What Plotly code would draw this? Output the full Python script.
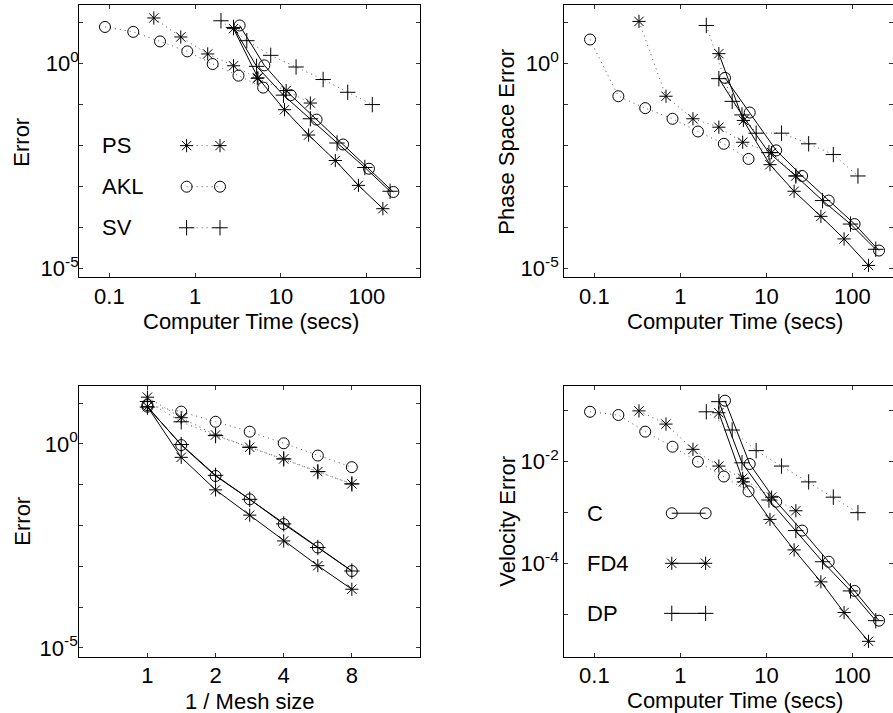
import plotly.graph_objects as go

# ---------------- data ----------------
# computer time (secs) of each method's runs
t_PS = [0.33, 0.68, 1.4, 2.8, 5.3, 11.5, 22]
t_AKL = [0.089, 0.19, 0.39, 0.81, 1.6, 3.2, 6.2]
t_SV = [2.0, 4.0, 7.6, 15, 31, 60, 116]
t_C = [3.3, 6.4, 13, 26, 53, 106, 204]
t_FD4 = [2.8, 5.4, 11, 21, 43, 80, 154]
t_DP = [2.8, 5.2, 10.7, 22, 45, 95, 187]
inv_mesh = [1, 1.41, 2, 2.83, 4, 5.66, 8]

# panel 1: Error vs computer time
err_PS = [13.1, 4.5, 1.73, 0.89, 0.44, 0.22, 0.109]
err_AKL = [7.9, 6.0, 3.5, 2.0, 0.98, 0.51, 0.26]
err_SV = [11.2, 3.65, 1.6, 0.83, 0.41, 0.20, 0.10]
err_C = [8.6, 0.91, 0.17, 0.043, 0.0106, 0.0027, 7.3e-4]
err_FD4 = [7.2, 0.45, 0.075, 0.018, 0.0043, 0.00106, 2.85e-4]
err_DP = [7.7, 0.86, 0.17, 0.045, 0.0115, 0.0029, 7.6e-4]

# panel 2: Phase space error vs computer time
pse_PS = [10.8, 0.16, 0.045, 0.028, 0.012, 0.0067, 0.0018]
pse_AKL = [3.9, 0.16, 0.082, 0.045, 0.022, 0.011, 0.0047]
pse_SV = [8.6, 0.12, 0.020, 0.020, 0.011, 0.006, 0.0018]
pse_C = [0.45, 0.064, 0.0076, 0.0018, 4.5e-4, 1.2e-4, 2.7e-5]
pse_FD4 = [1.76, 0.041, 0.0034, 7.6e-4, 1.85e-4, 5.2e-5, 1.17e-5]
pse_DP = [0.43, 0.056, 0.0067, 0.0018, 4.5e-4, 1.2e-4, 2.9e-5]

# panel 3: Error vs 1 / mesh size
mer_PS = [14, 4.4, 1.66, 0.83, 0.43, 0.21, 0.105]
mer_AKL = [9.0, 6.2, 3.5, 2.0, 1.04, 0.52, 0.27]
mer_SV = [11, 3.5, 1.6, 0.83, 0.43, 0.21, 0.105]
mer_C = [8.2, 0.94, 0.164, 0.044, 0.0109, 0.0029, 7.7e-4]
mer_FD4 = [8.2, 0.47, 0.075, 0.018, 0.0042, 0.00104, 2.75e-4]
mer_DP = [8.0, 0.97, 0.17, 0.044, 0.011, 0.0029, 7.7e-4]

# panel 4: Velocity error vs computer time
vel_PS = [0.10, 0.055, 0.0175, 0.0082, 0.0047, 0.0020, 0.00108]
vel_AKL = [0.096, 0.083, 0.039, 0.0197, 0.010, 0.0051, 0.0026]
vel_SV = [0.096, 0.042, 0.0165, 0.0082, 0.0040, 0.0020, 0.00099]
vel_C = [0.159, 0.009, 0.00163, 4.4e-4, 1.07e-4, 2.85e-5, 7.4e-6]
vel_FD4 = [0.092, 0.0040, 7.3e-4, 1.83e-4, 4.3e-5, 1.07e-5, 2.9e-6]
vel_DP = [0.152, 0.0095, 0.00176, 4.4e-4, 1.07e-4, 2.85e-5, 7.4e-6]

time_ticks = [0.1, 1, 10, 100]
time_ticktext = ["0.1", "1", "10", "100"]
mesh_ticks = [1, 2, 4, 8]
mesh_ticktext = ["1", "2", "4", "8"]

# ---------------- styling ----------------
FONT = "Liberation Sans, Arial, Helvetica, sans-serif"
FS = 22
DOT = "1px,4px"
STY = {
    "PS": dict(symbol="asterisk-open", dash=DOT, lc="#555555"),
    "AKL": dict(symbol="circle-open", dash=DOT, lc="#555555"),
    "SV": dict(symbol="cross-thin-open", dash=DOT, lc="#555555"),
    "C": dict(symbol="circle-open", dash="solid", lc="black"),
    "FD4": dict(symbol="asterisk-open", dash="solid", lc="black"),
    "DP": dict(symbol="cross-thin-open", dash="solid", lc="black"),
}

fig = go.Figure()


def add(x, y, name, xa, ya):
    s = STY[name]
    fig.add_trace(go.Scatter(
        x=x, y=y, mode="lines+markers", name=name, showlegend=False,
        xaxis=xa, yaxis=ya,
        line=dict(color=s["lc"], width=1, dash=s["dash"]),
        marker=dict(symbol=s["symbol"], size=11, color="black",
                    line=dict(color="black", width=1)),
    ))


panels = [
    ("x", "y", [t_PS, t_AKL, t_SV, t_C, t_FD4, t_DP],
     [err_PS, err_AKL, err_SV, err_C, err_FD4, err_DP]),
    ("x2", "y2", [t_PS, t_AKL, t_SV, t_C, t_FD4, t_DP],
     [pse_PS, pse_AKL, pse_SV, pse_C, pse_FD4, pse_DP]),
    ("x3", "y3", [inv_mesh] * 6,
     [mer_PS, mer_AKL, mer_SV, mer_C, mer_FD4, mer_DP]),
    ("x4", "y4", [t_PS, t_AKL, t_SV, t_C, t_FD4, t_DP],
     [vel_PS, vel_AKL, vel_SV, vel_C, vel_FD4, vel_DP]),
]
names = ["PS", "AKL", "SV", "C", "FD4", "DP"]
for xa, ya, xs, ys in panels:
    for nm, xv, yv in zip(names, xs, ys):
        add(xv, yv, nm, xa, ya)

# ---------------- in-axes legends (MATLAB style) ----------------
def legend_block(xa, ya, items, tx, mx0, mx1, ys):
    for nm, yy in zip(items, ys):
        s = STY[nm]
        fig.add_trace(go.Scatter(
            x=[mx0, mx1], y=[yy, yy], mode="lines+markers", showlegend=False,
            xaxis=xa, yaxis=ya, hoverinfo="skip",
            line=dict(color=s["lc"], width=1, dash=s["dash"]),
            marker=dict(symbol=s["symbol"], size=11, color="black",
                        line=dict(color="black", width=1)),
        ))
        fig.add_annotation(x=tx, y=yy, xref=xa, yref=ya, text=nm,
                           showarrow=False, xanchor="left", yanchor="middle",
                           font=dict(family=FONT, size=FS, color="black"))


legend_block("x5", "y5", ["PS", "AKL", "SV"], 0.062, 0.315, 0.413,
             [0.483, 0.332, 0.181])
legend_block("x6", "y6", ["C", "FD4", "DP"], 0.064, 0.327, 0.430,
             [0.530, 0.345, 0.160])

# ---------------- axis titles (placed as paper annotations) ----------------
W, H = 893, 713
titles = [
    ("Computer Time (secs)", 250.5, 321, 0),
    ("Computer Time (secs)", 735, 321, 0),
    ("1 / Mesh size", 249.5, 701, 0),
    ("Computer Time (secs)", 735, 700, 0),
    ("Error", 21.7, 142, -90),
    ("Phase Space Error", 506.7, 142, -90),
    ("Error", 21.7, 521, -90),
    ("Velocity Error", 506.7, 521, -90),
]
for txt, px, py, ang in titles:
    fig.add_annotation(x=px / W, y=1 - py / H, xref="paper", yref="paper",
                       text=txt, showarrow=False, textangle=ang,
                       xanchor="center", yanchor="middle",
                       font=dict(family=FONT, size=FS, color="black"))

# ---------------- axes ----------------
LX = [0.0888, 0.4703]
RX = [0.6319, 1.0]
TY = [0.6115, 0.993]
BY = [0.079, 0.4586]

common = dict(showline=True, linecolor="black", linewidth=1.3, mirror="ticks",
              ticks="inside", ticklen=4, tickwidth=1, tickcolor="#333333",
              showgrid=False, zeroline=False, automargin=False,
              tickfont=dict(family=FONT, size=FS, color="black"))

decades_a = [1e-5, 1e-4, 1e-3, 1e-2, 1e-1, 1, 10]
lab_a = [1e-5, 1]
lab_a_text = ["10<sup>-5</sup>", "10<sup>0</sup>"]
decades_b = [1e-5, 1e-4, 1e-3, 1e-2, 1e-1]
lab_b = [1e-4, 1e-2]
lab_b_text = ["10<sup>-4</sup>", "10<sup>-2</sup>"]


def minor(vals):
    return dict(tickmode="array", tickvals=vals, ticks="inside", ticklen=4,
                tickwidth=1, tickcolor="#333333", showgrid=False)


fig.update_layout(
    width=W, height=H,
    margin=dict(l=0, r=0, t=0, b=0, autoexpand=False),
    paper_bgcolor="white", plot_bgcolor="rgba(0,0,0,0)",
    font=dict(family=FONT, size=FS, color="black"),
    showlegend=False,
    xaxis=dict(domain=LX, anchor="y", type="log", range=[-1.35, 2.62],
               tickvals=time_ticks, ticktext=time_ticktext,
               ticklabelstandoff=-1, **common),
    yaxis=dict(domain=TY, anchor="x", type="log", range=[-5.215, 1.435],
               tickvals=lab_a, ticktext=lab_a_text, minor=minor(decades_a),
               ticklabelstandoff=-5, **common),
    xaxis2=dict(domain=RX, anchor="y2", type="log", range=[-1.35, 2.472],
                tickvals=time_ticks, ticktext=time_ticktext,
                ticklabelstandoff=-1, **common),
    yaxis2=dict(domain=TY, anchor="x2", type="log", range=[-5.215, 1.435],
                tickvals=lab_a, ticktext=lab_a_text, minor=minor(decades_a),
                ticklabelstandoff=0, **common),
    xaxis3=dict(domain=LX, anchor="y3", type="log", range=[-0.30103, 1.20412],
                tickvals=mesh_ticks, ticktext=mesh_ticktext,
                ticklabelstandoff=-1, **common),
    yaxis3=dict(domain=BY, anchor="x3", type="log", range=[-5.213, 1.42],
                tickvals=lab_a, ticktext=lab_a_text, minor=minor(decades_a),
                ticklabelstandoff=-4, **common),
    xaxis4=dict(domain=RX, anchor="y4", type="log", range=[-1.35, 2.472],
                tickvals=time_ticks, ticktext=time_ticktext,
                ticklabelstandoff=-1, **common),
    yaxis4=dict(domain=BY, anchor="x4", type="log", range=[-5.84, -0.51],
                tickvals=lab_b, ticktext=lab_b_text, minor=minor(decades_b),
                ticklabelstandoff=0, **common),
    xaxis5=dict(domain=LX, anchor="y5", range=[0, 1], visible=False),
    yaxis5=dict(domain=TY, anchor="x5", range=[0, 1], visible=False),
    xaxis6=dict(domain=RX, anchor="y6", range=[0, 1], visible=False),
    yaxis6=dict(domain=BY, anchor="x6", range=[0, 1], visible=False),
)

# remove the browser's default page margin so the figure sits at the top-left corner
fig.write_html("out.html", config={"displayModeBar": False},
               post_script="document.body.style.margin='0px';document.body.style.padding='0px';")
